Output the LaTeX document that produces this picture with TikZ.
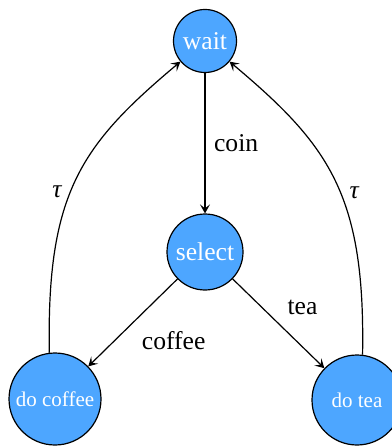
\documentclass[tikz,border=0pt]{standalone}
\usepackage{fontspec}
\setmainfont{Liberation Serif}
\usetikzlibrary{arrows.meta}
\definecolor{statefill}{RGB}{77,166,255}
\begin{document}
\begin{tikzpicture}[x=1pt,y=-1pt,
  state/.style={circle,draw=black,fill=statefill,line width=1.2pt,inner sep=0pt,
    text=white,font=\fontsize{25.6}{30}\selectfont},
  small state/.style={state,font=\fontsize{21}{25}\selectfont},
  trans/.style={draw=black,line width=1.2pt,-{Stealth[length=9pt,width=10pt,inset=4pt]}},
  lbl/.style={font=\fontsize{25.6}{30}\selectfont,text=black,inner sep=8.5pt}]
  \useasboundingbox (0,0) rectangle (391,446);

  % states
  \node[state,minimum size=63pt] (wait) at (205,41) {wait};
  \node[state,minimum size=76pt] (select) at (205,252) {select};
  \node[small state,minimum size=92pt] (coffee) at (55,399) {do coffee};
  \node[small state,minimum size=90pt] (tea) at (357,400) {do tea};

  % transitions
  \draw[trans] (wait) -- node[lbl,right] {coin} (select);
  \draw[trans] (select) -- node[lbl,below right] {coffee} (coffee);
  \draw[trans] (select) -- node[lbl,above right] {tea} (tea);
  \draw[trans] (coffee.97) .. controls +(91:160pt) and +(220:130pt) .. node[lbl,left,pos=0.45] {\itshape τ} (wait.220);
  \draw[trans] (tea.83) .. controls +(89:160pt) and +(-40:130pt) .. node[lbl,right,pos=0.45] {\itshape τ} (wait.-40);
\end{tikzpicture}
\end{document}
